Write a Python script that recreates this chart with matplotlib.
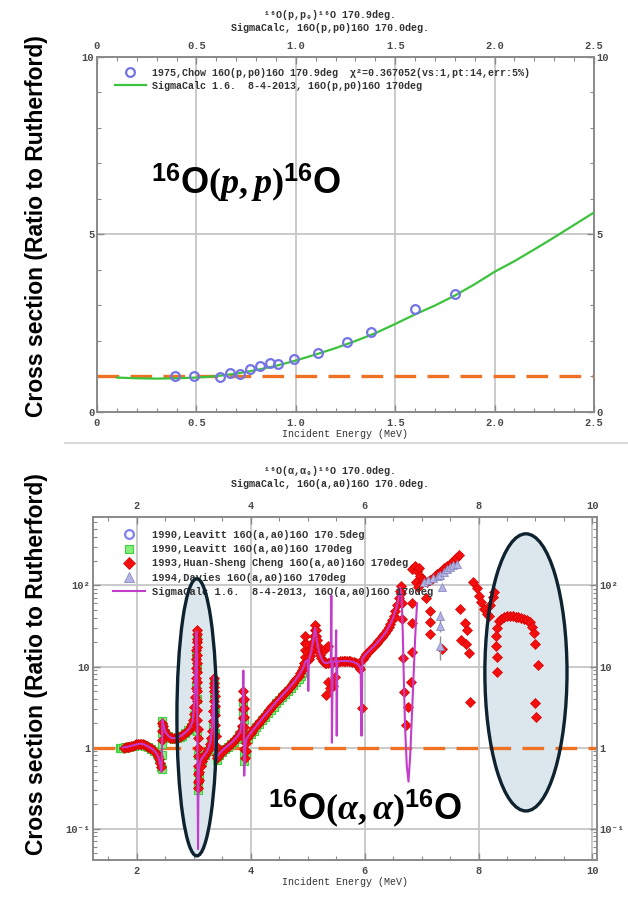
import matplotlib
matplotlib.use("Agg")
import matplotlib.pyplot as plt
from matplotlib.patches import Ellipse
from matplotlib.lines import Line2D
from matplotlib.ticker import MultipleLocator, FixedLocator, FuncFormatter, LogLocator, NullFormatter

MONO = ["Liberation Mono", "DejaVu Sans Mono"]
plt.rcParams["font.family"] = MONO
plt.rcParams["font.weight"] = "bold"
plt.rcParams["mathtext.fontset"] = "custom"
plt.rcParams["mathtext.rm"] = "Liberation Serif"
plt.rcParams["mathtext.it"] = "Liberation Serif:italic"
plt.rcParams["mathtext.bf"] = "Liberation Sans:bold"

# ---------------- 16O(p,p0)16O at 170 deg ----------------
chow_e = [0.39, 0.49, 0.62, 0.67, 0.72, 0.77, 0.82, 0.87, 0.91, 0.99, 1.11, 1.26, 1.38, 1.60, 1.80]
chow_ratio = [1.02, 1.01, 0.99, 1.10, 1.08, 1.20, 1.30, 1.38, 1.34, 1.48, 1.67, 1.97, 2.26, 2.91, 3.32]

pp_calc_e = [0.10, 0.20, 0.30, 0.40, 0.50, 0.60, 0.70, 0.80, 0.90, 1.00, 1.10, 1.20, 1.30,
             1.40, 1.50, 1.60, 1.70, 1.80, 1.90, 2.00, 2.10, 2.20, 2.30, 2.40, 2.50]
pp_calc_ratio = [0.97, 0.95, 0.94, 0.95, 0.97, 1.01, 1.08, 1.18, 1.30, 1.45, 1.62, 1.80, 2.00,
                 2.22, 2.48, 2.75, 3.00, 3.28, 3.60, 3.95, 4.25, 4.58, 4.92, 5.27, 5.62]

rutherford_ratio = 1.0

# ---------------- 16O(a,a0)16O at 170 deg ----------------
cheng_e = [
    1.78, 1.81, 1.84, 1.87, 1.90, 1.93, 1.96, 1.99, 2.02, 2.05, 2.08, 2.11,
    2.14, 2.17, 2.20, 2.23, 2.26, 2.29, 2.32, 2.35, 2.37, 2.39, 2.41, 2.42,
    2.44, 2.45, 2.45, 2.46, 2.48, 2.50, 2.53, 2.56, 2.59, 2.62, 2.65, 2.68,
    2.71, 2.74, 2.77, 2.80, 2.83, 2.86, 2.89, 2.92, 2.95, 2.97, 2.99, 3.00,
    3.01, 3.02, 3.03, 3.03, 3.04, 3.04, 3.04, 3.05, 3.05, 3.05, 3.05, 3.05,
    3.05, 3.06, 3.06, 3.06, 3.06, 3.06, 3.06, 3.06, 3.07, 3.07, 3.07, 3.07,
    3.07, 3.07, 3.08, 3.08, 3.09, 3.10, 3.12, 3.14, 3.16, 3.19, 3.22, 3.25,
    3.27, 3.29, 3.31, 3.32, 3.33, 3.34, 3.35, 3.35, 3.36, 3.36, 3.36, 3.37,
    3.37, 3.38, 3.38, 3.39, 3.39, 3.40, 3.41, 3.43, 3.46, 3.49, 3.52, 3.55,
    3.58, 3.61, 3.64, 3.67, 3.70, 3.73, 3.76, 3.79, 3.81, 3.83, 3.85, 3.86,
    3.86, 3.87, 3.87, 3.88, 3.88, 3.88, 3.89, 3.89, 3.89, 3.90, 3.91, 3.92,
    3.94, 3.97, 4.00, 4.03, 4.06, 4.09, 4.12, 4.15, 4.18, 4.21, 4.24, 4.27,
    4.30, 4.33, 4.36, 4.39, 4.42, 4.45, 4.48, 4.51, 4.54, 4.57, 4.60, 4.63,
    4.66, 4.69, 4.72, 4.75, 4.78, 4.81, 4.84, 4.87, 4.90, 4.92, 4.94, 4.95,
    4.95, 4.96, 4.96, 4.97, 4.98, 5.00, 5.02, 5.04, 5.06, 5.08, 5.10, 5.11,
    5.12, 5.13, 5.14, 5.15, 5.16, 5.18, 5.20, 5.22, 5.24, 5.26, 5.28, 5.30,
    5.33, 5.36, 5.39, 5.42, 5.45, 5.48, 5.51, 5.54, 5.57, 5.60, 5.63, 5.66,
    5.69, 5.72, 5.75, 5.78, 5.81, 5.84, 5.87, 5.90, 5.92, 5.30, 5.35, 5.33,
    5.36, 5.45, 5.48, 5.39, 5.95, 5.97, 6.00, 6.03, 6.06, 6.09, 6.12, 6.15,
    6.18, 6.21, 6.24, 6.27, 6.30, 6.33, 6.36, 6.39, 6.42, 6.45, 6.48, 6.51,
    6.54, 6.57, 6.60, 6.62, 6.63, 6.64, 6.65, 6.66, 6.68, 6.69, 6.72, 6.76,
    6.83, 6.83, 6.83, 6.82, 6.84, 6.88, 6.92, 6.95, 6.97, 7.00, 6.90, 6.94,
    7.05, 7.09, 7.14, 7.18, 7.23, 7.27, 7.32, 7.36, 7.40, 7.44, 7.49, 7.53,
    7.57, 7.61, 7.65, 7.07, 7.15, 7.15, 7.14, 7.35, 7.68, 7.76, 7.79, 7.70,
    7.78, 7.83, 7.85, 7.91, 7.97, 8.01, 8.05, 8.09, 8.15, 8.20, 8.25, 8.28,
    8.18, 8.32, 8.36, 8.40, 8.45, 8.50, 8.55, 8.60, 8.65, 8.70, 8.75, 8.80,
    8.85, 8.90, 8.94, 8.97, 8.99, 8.31, 8.31, 8.32, 8.33, 9.04, 9.00, 9.01,
]
cheng_ratio = [
    1.00, 1.01, 1.02, 1.03, 1.05, 1.06, 1.08, 1.10, 1.11, 1.12, 1.12, 1.10,
    1.08, 1.05, 1.02, 0.99, 0.96, 0.93, 0.89, 0.84, 0.79, 0.72, 0.64, 0.58,
    1.25, 1.60, 2.00, 1.85, 1.65, 1.52, 1.44, 1.38, 1.33, 1.30, 1.30, 1.31,
    1.33, 1.36, 1.39, 1.43, 1.48, 1.54, 1.61, 1.70, 1.82, 1.95, 2.20, 2.60,
    3.2, 4.2, 5.5, 7.2, 9.5, 12.5, 16.0, 20.0, 25.0, 28.0, 22.0, 17.5,
    14.0, 11.0, 8.5, 6.5, 5.0, 3.8, 2.9, 2.2, 1.7, 1.3, 1.0, 0.78,
    0.60, 0.47, 0.38, 0.32, 0.40, 0.50, 0.60, 0.68, 0.74, 0.80, 0.86, 0.93,
    1.00, 1.10, 1.30, 1.60, 2.10, 2.80, 3.80, 5.00, 6.30, 7.20, 5.60, 4.30,
    3.30, 2.50, 1.90, 1.40, 1.05, 0.82, 0.74, 0.78, 0.83, 0.88, 0.93, 0.97,
    1.01, 1.06, 1.10, 1.15, 1.21, 1.27, 1.34, 1.42, 1.50, 1.62, 1.85, 2.30,
    3.00, 3.90, 5.00, 4.00, 3.10, 2.40, 1.80, 1.30, 0.95, 0.75, 0.90, 1.15,
    1.30, 1.42, 1.52, 1.62, 1.72, 1.83, 1.94, 2.06, 2.19, 2.33, 2.48, 2.63,
    2.79, 2.96, 3.13, 3.31, 3.50, 3.70, 3.90, 4.10, 4.30, 4.55, 4.80, 5.05,
    5.35, 5.65, 6.00, 6.35, 6.75, 7.20, 7.70, 8.30, 9.00, 9.80, 11.0, 13.0,
    16.0, 19.5, 24.0, 19.0, 15.0, 12.0, 12.5, 13.5, 15.0, 17.0, 20.0, 24.0,
    28.0, 33.0, 28.0, 24.0, 21.0, 18.0, 15.5, 13.8, 12.6, 11.8, 11.3, 11.0,
    11.0, 11.2, 11.4, 11.3, 11.5, 11.6, 11.4, 11.5, 11.6, 11.7, 11.6, 11.7,
    11.8, 11.7, 11.6, 11.5, 11.3, 11.0, 10.6, 10.0, 9.2, 16.5, 18.0, 4.4,
    6.5, 5.8, 7.5, 5.5, 3.1, 12.5, 13.5, 14.2, 15.0, 15.8, 16.6, 17.5,
    18.4, 19.4, 20.5, 21.6, 22.9, 24.4, 26.0, 28.0, 30.5, 33.5, 37.0, 42.0,
    48.0, 57.0, 70.0, 85.0, 98.0, 80.0, 60.0, 39.0, 12.6, 4.8, 1.9, 3.2,
    60.0, 34.0, 15.0, 6.4, 160.0, 175.0, 150.0, 165.0, 130.0, 120.0, 110.0, 95.0,
    115.0, 110.0, 118.0, 121.0, 130.0, 140.0, 147.0, 153.0, 165.0, 176.0, 185.0, 193.0,
    205.0, 220.0, 235.0, 70.0, 48.0, 35.0, 25.0, 16.6, 52.0, 34.0, 28.5, 21.0,
    19.0, 14.5, 3.6, 112.0, 92.0, 75.0, 62.0, 52.0, 45.0, 57.0, 72.0, 82.0,
    42.0, 30.0, 36.0, 39.0, 41.0, 42.0, 42.0, 42.0, 41.0, 41.0, 40.0, 39.0,
    38.0, 35.0, 31.0, 26.0, 19.0, 24.0, 18.0, 13.0, 8.5, 10.3, 3.5, 2.4,
]

leavitt170_e = [
    1.70, 1.73, 1.76, 1.80, 1.85, 1.90, 1.95, 2.00, 2.05, 2.10, 2.15, 2.20,
    2.25, 2.30, 2.35, 2.39, 2.42, 2.44, 2.44, 2.45, 2.45, 2.45, 2.46, 2.50,
    2.55, 2.60, 2.65, 2.70, 2.75, 2.80, 2.85, 2.90, 2.95, 3.00, 3.03, 3.04,
    3.05, 3.05, 3.06, 3.06, 3.07, 3.07, 3.08, 3.08, 3.10, 3.15, 3.20, 3.25,
    3.30, 3.33, 3.35, 3.36, 3.37, 3.38, 3.39, 3.40, 3.45, 3.50, 3.55, 3.60,
    3.65, 3.70, 3.75, 3.80, 3.84, 3.86, 3.87, 3.88, 3.88, 3.89, 3.89, 3.91,
    3.95, 4.00, 4.05, 4.10, 4.15, 4.20, 4.25, 4.30, 4.35, 4.40, 4.45, 4.50,
    4.55, 4.60, 4.65, 4.70, 4.75, 4.80, 4.85, 4.88, 4.90, 4.93,
]
leavitt170_ratio = [
    1.00, 1.00, 1.00, 1.01, 1.02, 1.04, 1.06, 1.08, 1.10, 1.09, 1.06, 1.01,
    0.96, 0.91, 0.83, 0.72, 0.58, 0.55, 0.80, 1.10, 1.50, 2.15, 1.80, 1.50,
    1.37, 1.30, 1.28, 1.30, 1.35, 1.40, 1.50, 1.63, 1.80, 2.50, 6.00, 14.0,
    22.0, 10.0, 4.00, 1.60, 0.80, 0.50, 0.36, 0.30, 0.45, 0.68, 0.80, 0.90,
    1.15, 1.90, 4.50, 6.50, 3.00, 1.50, 0.90, 0.70, 0.80, 0.88, 0.95, 1.02,
    1.10, 1.18, 1.28, 1.42, 1.70, 2.60, 3.60, 2.20, 1.30, 0.85, 0.68, 0.85,
    1.28, 1.45, 1.60, 1.80, 1.98, 2.18, 2.40, 2.65, 2.92, 3.20, 3.52, 3.85,
    4.20, 4.55, 4.95, 5.40, 5.90, 6.50, 7.10, 7.60, 8.40, 9.40,
]

leavitt1705_e = [2.00, 2.20, 2.60, 2.80, 3.50, 3.70, 4.00, 4.30, 4.60]
leavitt1705_ratio = [1.10, 1.02, 1.30, 1.43, 0.93, 1.21, 1.52, 2.79, 4.80]

davies_e = [7.05, 7.12, 7.20, 7.28, 7.33, 7.39, 7.45, 7.50, 7.56, 7.62, 7.36, 7.33, 7.33, 7.33]
davies_ratio = [112.0, 118.0, 125.0, 130.0, 133.0, 147.0, 160.0, 170.0, 178.0, 185.0, 95.0, 42.0, 32.0, 18.0]
davies_err_lo = [4.0, 4.0, 4.0, 5.0, 5.0, 5.0, 6.0, 6.0, 6.0, 6.0, 4.0, 5.0, 5.0, 6.0]
davies_err_hi = [4.0, 4.0, 4.0, 5.0, 5.0, 5.0, 6.0, 6.0, 6.0, 6.0, 4.0, 7.0, 5.0, 6.0]

aa_calc_e = [
    1.75, 1.85, 1.95, 2.05, 2.12, 2.20, 2.28, 2.34, 2.38, 2.41, 2.43, 2.44,
    2.45, 2.46, 2.50, 2.56, 2.62, 2.70, 2.78, 2.86, 2.93, 2.98, 3.01, 3.03,
    3.045, 3.055, 3.062, 3.068, 3.074, 3.08, 3.09, 3.12, 3.18, 3.24, 3.29, 3.32,
    3.34, 3.355, 3.365, 3.375, 3.385, 3.40, 3.45, 3.52, 3.60, 3.68, 3.76, 3.82,
    3.855, 3.87, 3.88, 3.885, 3.895, 3.92, 3.97, 4.05, 4.15, 4.25, 4.35, 4.45,
    4.55, 4.65, 4.75, 4.85, 4.92, 4.96, 5.00, 5.01, 5.02, 5.06, 5.10, 5.13,
    5.16, 5.20, 5.24, 5.28, 5.33, 5.38, 5.405, 5.415, 5.425, 5.44, 5.49, 5.50,
    5.51, 5.52, 5.60, 5.70, 5.80, 5.88, 5.93, 5.945, 5.96, 6.02, 6.10, 6.20,
    6.30, 6.38, 6.45, 6.50, 6.55, 6.59, 6.62, 6.65, 6.67, 6.69, 6.71, 6.74,
    6.77, 6.80, 6.83, 6.86, 6.89, 6.92,
]
aa_calc_ratio = [
    1.00, 1.03, 1.07, 1.12, 1.10, 1.03, 0.95, 0.86, 0.76, 0.62, 0.50, 0.85,
    2.20, 2.00, 1.55, 1.38, 1.30, 1.32, 1.40, 1.55, 1.75, 2.10, 3.50, 9.0,
    27.0, 14.0, 2.0, 0.30, 0.056, 0.25, 0.55, 0.70, 0.80, 0.92, 1.15, 1.70,
    3.50, 7.5, 2.0, 0.50, 0.60, 0.76, 0.85, 0.95, 1.06, 1.18, 1.36, 1.58,
    2.40, 8.9, 2.0, 0.45, 0.90, 1.25, 1.42, 1.68, 2.06, 2.52, 3.05, 3.68,
    4.40, 5.25, 6.30, 7.90, 9.6, 11.5, 12.0, 5.0, 12.0, 15.0, 22.0, 30.0,
    21.0, 15.0, 12.6, 11.3, 11.0, 11.3, 11.4, 75.0, 1.15, 11.4, 11.6, 28.0,
    1.4, 11.5, 11.7, 11.7, 11.4, 10.7, 9.6, 1.4, 12.5, 14.2, 16.2, 19.0,
    22.9, 27.0, 33.5, 40.0, 51.0, 65.0, 95.0, 70.0, 25.0, 6.0, 1.8, 0.60,
    0.38, 0.80, 2.5, 8.0, 25.0, 60.0,
]

# colours
SPINE = "#8a8a8a"
TICKTXT = "#4a4a4a"
GRID = "#c6c6c6"
ORANGE = "#ef7124"
GREEN_LINE = "#3cc23c"
CHOW_BLUE = "#7474e6"
MAGENTA = "#c43ccc"
RED = "#f40f0f"

W, H = 628, 897
fig = plt.figure(figsize=(W / 100, H / 100), dpi=100)


def px_axes(left, top, right, bottom):
    return [left / W, 1 - bottom / H, (right - left) / W, (bottom - top) / H]


def style_axes(ax):
    for s in ax.spines.values():
        s.set_color(SPINE)
        s.set_linewidth(1.4)
    ax.tick_params(which="both", direction="in", top=True, right=True,
                   labeltop=True, labelright=True, colors=SPINE,
                   labelcolor=TICKTXT, labelsize=7.5, pad=2)
    ax.tick_params(axis="x", which="major", pad=4)
    ax.tick_params(which="major", length=5, width=1.0)
    ax.tick_params(which="minor", length=3, width=0.8)
    ax.grid(which="major", color=GRID, linewidth=1.3, zorder=0)
    ax.set_axisbelow(True)


# ================= upper panel: protons =================
ax1 = fig.add_axes(px_axes(97, 57, 594, 412))
style_axes(ax1)
ax1.set_xlim(0, 2.5)
ax1.set_ylim(0, 10)
ax1.xaxis.set_major_locator(MultipleLocator(0.5))
ax1.xaxis.set_minor_locator(MultipleLocator(0.1))
ax1.yaxis.set_major_locator(MultipleLocator(5))
ax1.yaxis.set_minor_locator(MultipleLocator(1))
ax1.xaxis.set_major_formatter(FuncFormatter(lambda v, p: "0" if v == 0 else f"{v:.1f}"))
ax1.yaxis.set_major_formatter(FuncFormatter(lambda v, p: f"{v:.0f}"))

ax1.axhline(rutherford_ratio, color=ORANGE, lw=2.4, dashes=(6.5, 3.4), zorder=2)
ax1.plot(pp_calc_e, pp_calc_ratio, color=GREEN_LINE, lw=1.6, zorder=3)
ax1.plot(chow_e, chow_ratio, ls="none", marker="o", ms=6.3, mfc="none",
         mec=CHOW_BLUE, mew=1.6, zorder=4)
ax1.set_xlabel("Incident Energy (MeV)", fontsize=7.2, color="#333333", labelpad=1)

leg1_handles = [
    Line2D([], [], ls="none", marker="o", ms=6.3, mfc="none", mec=CHOW_BLUE, mew=1.6),
    Line2D([], [], color=GREEN_LINE, lw=1.6),
]
leg1_labels = [
    "1975,Chow 16O(p,p0)16O 170.9deg  χ²=0.367052(vs:1,pt:14,err:5%)",
    "SigmaCalc 1.6.  8-4-2013, 16O(p,p0)16O 170deg",
]
leg1 = ax1.legend(leg1_handles, leg1_labels, loc="upper left",
                  bbox_to_anchor=(0.036, 0.97), frameon=False, borderpad=0,
                  borderaxespad=0, handlelength=3.1, handletextpad=0.6,
                  labelspacing=0.3, prop={"family": MONO, "weight": "bold", "size": 7.2})
for t in leg1.get_texts():
    t.set_color("#333333")

fig.text(0.526, 1 - 15 / H, "¹⁶O(p,p₀)¹⁶O 170.9deg.", ha="center", va="center",
         fontsize=7.2, color="#333333")
fig.text(0.526, 1 - 28 / H, "SigmaCalc, 16O(p,p0)16O 170.0deg.", ha="center",
         va="center", fontsize=7.2, color="#333333")
fig.text(246 / W, 1 - 183 / H, r"$^{\mathbf{16}}\mathbf{O}(p,p)^{\mathbf{16}}\mathbf{O}$",
         ha="center", va="center", fontsize=26, color="black")

# separator between the two panels
fig.add_artist(Line2D([65 / W, 1.0], [1 - 443 / H, 1 - 443 / H], color="#d2d2d2", lw=1.2))

# ================= lower panel: alphas =================
ax2 = fig.add_axes(px_axes(93, 517, 597, 860))
style_axes(ax2)
ax2.set_yscale("log")
ax2.set_xlim(1.23, 10.08)
ax2.set_ylim(0.0410, 700)
ax2.xaxis.set_major_locator(FixedLocator([2, 4, 6, 8, 10]))
ax2.xaxis.set_minor_locator(MultipleLocator(0.5))
ax2.xaxis.set_major_formatter(FuncFormatter(lambda v, p: f"{v:.0f}"))
ax2.yaxis.set_major_locator(FixedLocator([0.1, 1, 10, 100]))
ax2.yaxis.set_minor_locator(LogLocator(base=10, subs=range(2, 10)))
ax2.yaxis.set_minor_formatter(NullFormatter())
decade_names = {0.1: "10⁻¹", 1: "1", 10: "10", 100: "10²"}
ax2.yaxis.set_major_formatter(FuncFormatter(
    lambda v, p: next((s for k, s in decade_names.items() if abs(v - k) < 1e-9 * k + 1e-12), "")))

# highlighted regions
ellipses = [(0.206, 0.416, 0.079, 0.808), (0.859, 0.547, 0.163, 0.808)]
for cx, cy, w, h in ellipses:
    ax2.add_patch(Ellipse((cx, cy), w, h, transform=ax2.transAxes,
                          facecolor="#dce6ed", edgecolor="none", zorder=1))
    ax2.add_patch(Ellipse((cx, cy), w, h, transform=ax2.transAxes,
                          facecolor="none", edgecolor="#0f2230", lw=2.4, zorder=9))

ax2.axhline(rutherford_ratio, color=ORANGE, lw=2.4, dashes=(6.5, 3.4), zorder=2)
ax2.plot(leavitt1705_e, leavitt1705_ratio, ls="none", marker="o", ms=4.5,
         mfc="none", mec="#8080f0", mew=1.2, zorder=3)
ax2.plot(leavitt170_e, leavitt170_ratio, ls="none", marker="s", ms=5.4,
         mfc="#86ee7a", mec="#3fcf3f", mew=0.8, zorder=3.5)
ax2.plot(cheng_e, cheng_ratio, ls="none", marker="D", ms=5.2,
         mfc=RED, mec="#d80000", mew=0.5, zorder=4)
ax2.errorbar(davies_e, davies_ratio, yerr=[davies_err_lo, davies_err_hi], ls="none",
             marker="^", ms=5.5, mfc="#b4b4e4", mec="#8a8ac4", mew=0.6,
             ecolor="#8e8e8e", elinewidth=1.0, capsize=0, zorder=5)
ax2.plot(aa_calc_e, aa_calc_ratio, color=MAGENTA, lw=1.5, zorder=6)
ax2.set_xlabel("Incident Energy (MeV)", fontsize=7.2, color="#333333", labelpad=1)

leg2_handles = [
    Line2D([], [], ls="none", marker="o", ms=6.3, mfc="none", mec="#8080f0", mew=1.6),
    Line2D([], [], ls="none", marker="s", ms=6.2, mfc="#86ee7a", mec="#3fcf3f", mew=0.8),
    Line2D([], [], ls="none", marker="D", ms=6.0, mfc=RED, mec="#d80000", mew=0.5),
    Line2D([], [], ls="none", marker="^", ms=7.0, mfc="#b4b4e4", mec="#8a8ac4", mew=0.6),
    Line2D([], [], color=MAGENTA, lw=1.5),
]
leg2_labels = [
    "1990,Leavitt 16O(a,a0)16O 170.5deg",
    "1990,Leavitt 16O(a,a0)16O 170deg",
    "1993,Huan-Sheng Cheng 16O(a,a0)16O 170deg",
    "1994,Davies 16O(a,a0)16O 170deg",
    "SigmaCalc 1.6.  8-4-2013, 16O(a,a0)16O 170deg",
]
leg2 = ax2.legend(leg2_handles, leg2_labels, loc="upper left",
                  bbox_to_anchor=(0.04, 0.962), frameon=False, borderpad=0,
                  borderaxespad=0, handlelength=3.1, handletextpad=0.6,
                  labelspacing=0.4, prop={"family": MONO, "weight": "bold", "size": 7.5})
leg2.set_zorder(8)
for t in leg2.get_texts():
    t.set_color("#333333")

fig.text(0.526, 1 - 471 / H, "¹⁶O(α,α₀)¹⁶O 170.0deg.", ha="center", va="center",
         fontsize=7.2, color="#333333")
fig.text(0.526, 1 - 484 / H, "SigmaCalc, 16O(a,a0)16O 170.0deg.", ha="center",
         va="center", fontsize=7.2, color="#333333")
fig.text(365 / W, 1 - 808 / H, r"$^{\mathbf{16}}\mathbf{O}(\alpha,\alpha)^{\mathbf{16}}\mathbf{O}$",
         ha="center", va="center", fontsize=26, color="black", zorder=10)

# shared quantity on both vertical axes
for yc in (226, 664):
    fig.text(37 / W, 1 - yc / H, "Cross section (Ratio to Rutherford)", rotation=90,
             ha="center", va="center", fontsize=16.5, fontweight="bold",
             family=["Liberation Sans", "DejaVu Sans"], color="black")

fig.savefig("out.png", dpi=100, facecolor="white")
